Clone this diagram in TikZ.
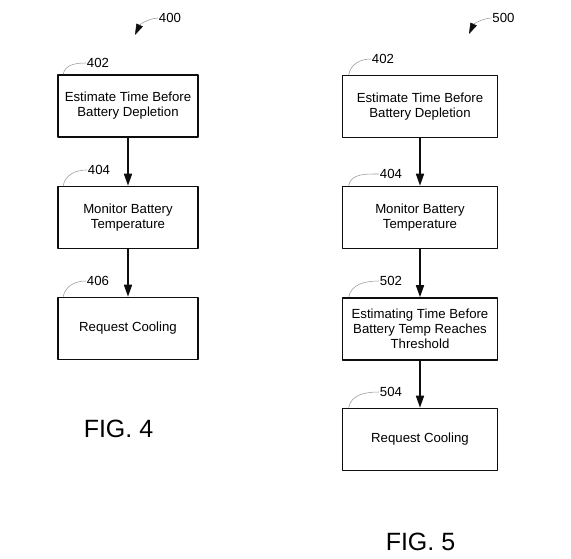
\documentclass[tikz,border=0pt]{standalone}
\usepackage{fontspec}
\setmainfont{Liberation Sans}
\usetikzlibrary{arrows.meta}
\definecolor{inkblack}{gray}{0.05}
\definecolor{leadgray}{gray}{0.6}
\tikzset{
  stepbox/.style  = {draw=inkblack, line width=1.6pt, align=center,
                     minimum height=62pt, inner sep=2pt,
                     font=\fontsize{13.2}{15}\selectfont},
  stepl/.style    = {stepbox, minimum width=140pt},
  stepr/.style    = {stepbox, minimum width=155pt},
  reflab/.style   = {font=\fontsize{13.2}{15}\selectfont, inner sep=1pt},
  leader/.style   = {draw=leadgray, line width=0.55pt},
  flow/.style     = {draw=inkblack, line width=1.6pt,
                     -{Triangle[length=12pt, width=8pt]}},
  figarrow/.style = {leader, -{Triangle[length=11pt, width=7pt, color=inkblack]}},
  figlab/.style   = {font=\fontsize{25}{30}\selectfont, inner sep=0pt},
}

\begin{document}
\begin{tikzpicture}[x=1pt, y=-1pt, line join=round]
  \useasboundingbox (0,0) rectangle (571,558);
  % FIG. 4
  \node[reflab] (r400) at (170,18) {400};
  \coordinate (t400) at (135,35);
  \draw[figarrow] (r400.west) to[out=185, in=65] (t400);
  \node[stepl] (l402) at (128,106) {Estimate Time Before\\Battery Depletion};
  \node[stepl] (l404) at (128,217.5) {Monitor Battery\\Temperature};
  \node[stepl] (l406) at (128,328.5) {Request Cooling};
  \node[reflab] (n402a) at (98,63) {402};
  \node[reflab] (n404a) at (99,170) {404};
  \node[reflab] (n406a) at (98,281) {406};
  \draw[leader] ([xshift=6pt]l402.north west) to[out=80, in=180] (n402a.west);
  \draw[leader] ([xshift=6pt]l404.north west) to[out=80, in=180] (n404a.west);
  \draw[leader] ([xshift=6pt]l406.north west) to[out=80, in=180] (n406a.west);
  \draw[flow] (l402) -- (l404);
  \draw[flow] (l404) -- (l406);
  \node[figlab] (fig4) at (118.5,429) {FIG. 4};
  % FIG. 5
  \node[reflab] (r500) at (503.5,18) {500};
  \coordinate (t500) at (469,34);
  \draw[figarrow] (r500.west) to[out=185, in=65] (t500);
  \node[stepr] (r402) at (420,106.5) {Estimate Time Before\\Battery Depletion};
  \node[stepr] (r404) at (420,217.5) {Monitor Battery\\Temperature};
  \node[stepr] (r502) at (420,329) {Estimating Time Before\\Battery Temp Reaches\\Threshold};
  \node[stepr] (r504) at (420,439.5) {Request Cooling};
  \node[reflab] (n402b) at (383,59) {402};
  \node[reflab] (n404b) at (391,174) {404};
  \node[reflab] (n502) at (391,281) {502};
  \node[reflab] (n504) at (391,392) {504};
  \draw[leader] ([xshift=7pt]r402.north west) to[out=80, in=180] (n402b.west);
  \draw[leader] ([xshift=7pt]r404.north west) to[out=80, in=180] (n404b.west);
  \draw[leader] ([xshift=7pt]r502.north west) to[out=80, in=180] (n502.west);
  \draw[leader] ([xshift=7pt]r504.north west) to[out=80, in=180] (n504.west);
  \draw[flow] (r402) -- (r404);
  \draw[flow] (r404) -- (r502);
  \draw[flow] (r502) -- (r504);
  \node[figlab] (fig5) at (420.5,542) {FIG. 5};
\end{tikzpicture}
\end{document}
